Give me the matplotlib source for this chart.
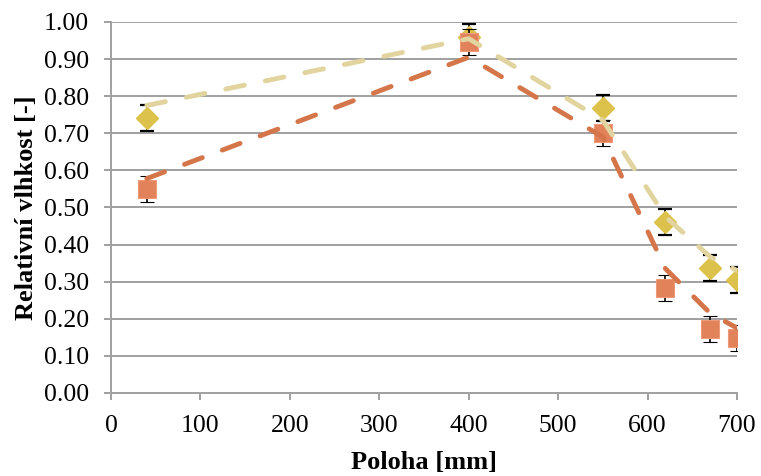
import numpy as np
import matplotlib
matplotlib.use("Agg")
import matplotlib.pyplot as plt

# data
poloha = [40, 400, 550, 620, 670, 700]
vlhkost_zluta = [0.742, 0.960, 0.767, 0.462, 0.337, 0.305]
chyba_zluta = [0.035, 0.035, 0.035, 0.035, 0.035, 0.035]
vlhkost_oranzova = [0.551, 0.945, 0.700, 0.283, 0.172, 0.148]
chyba_oranzova = [0.035, 0.035, 0.035, 0.035, 0.035, 0.035]
krivka_zluta = [0.775, 0.955, 0.735, 0.475, 0.367, 0.330]
krivka_oranzova = [0.578, 0.905, 0.690, 0.335, 0.215, 0.175]

plt.rcParams['font.family'] = ['Liberation Serif', 'DejaVu Serif']

fig = plt.figure(figsize=(7.61, 4.76), dpi=100)
ax = fig.add_axes([0.1459, 0.1744, 0.8226, 0.7794])

grid_col = '#a0a0a0'
for y in np.arange(0.1, 1.01, 0.1):
    ax.axhline(y, color=grid_col, lw=1.4, zorder=0)

# markers with error bars
ax.errorbar(poloha, vlhkost_zluta, yerr=chyba_zluta, fmt='D', ms=10.8,
            color='#dcc24a', mec='#dcc24a', ecolor='black', elinewidth=1.2,
            capsize=4.7, capthick=1.6, zorder=3)
ax.errorbar(poloha, vlhkost_oranzova, yerr=chyba_oranzova, fmt='s', ms=13.5,
            color='#e2825a', mec='#ee9a78', mew=0.8, ecolor='black', elinewidth=1.2,
            capsize=4.7, capthick=1.6, zorder=4)

# dashed curves
ax.plot(poloha, krivka_zluta, color='#e2d49e', lw=3.5, dashes=(3.9, 4.4),
        dash_capstyle='round', zorder=5)
ax.plot(poloha, krivka_oranzova, color='#d4764a', lw=3.5, dashes=(3.9, 4.4),
        dash_capstyle='round', zorder=6)

ax.set_xlim(0, 700)
ax.set_ylim(0, 1.0)
ax.set_xticks(np.arange(0, 701, 100))
ax.set_yticks(np.arange(0, 1.01, 0.1))
ax.set_yticklabels(['%.2f' % v for v in np.arange(0, 1.01, 0.1)])

for s in ['top', 'right']:
    ax.spines[s].set_visible(False)
for s in ['left', 'bottom']:
    ax.spines[s].set_color(grid_col)
    ax.spines[s].set_linewidth(1.4)
ax.tick_params(axis='both', colors=grid_col, labelcolor='black', labelsize=18.5,
               width=1.4, length=5)
ax.tick_params(axis='y', pad=11)
ax.tick_params(axis='x', pad=11)

ax.set_xlabel('Poloha [mm]', fontsize=19, fontweight='bold', labelpad=10)
ax.set_ylabel('Relativní vlhkost [-]', fontsize=19, fontweight='bold', labelpad=4)

fig.savefig('out.png', dpi=100)
